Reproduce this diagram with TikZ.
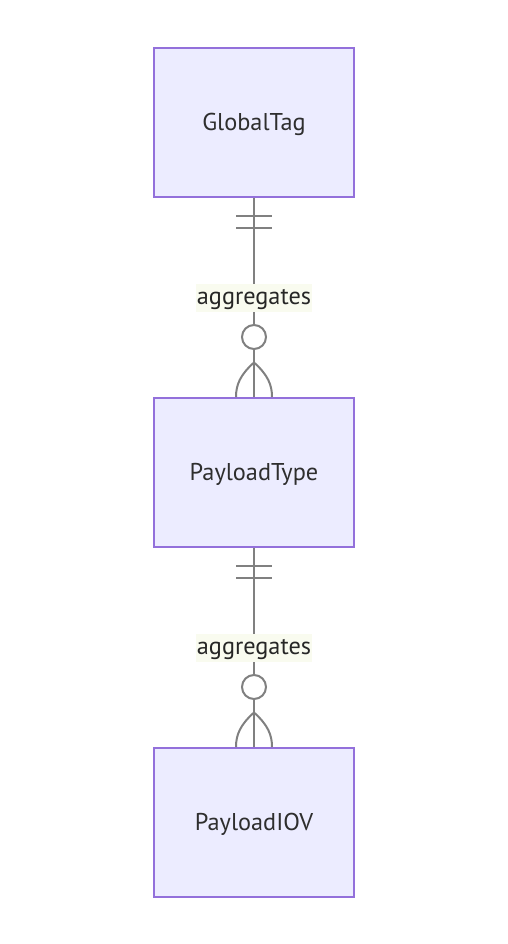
\documentclass[tikz,border=0pt]{standalone}
\usepackage{fontspec}
\setmainfont{PT Sans}
\definecolor{boxfill}{HTML}{ECECFF}
\definecolor{boxline}{HTML}{9370DB}
\definecolor{conn}{HTML}{808080}
\definecolor{lblbg}{HTML}{F9FBEF}
\definecolor{txt}{HTML}{2E2E2E}
\begin{document}
\begin{tikzpicture}[x=1pt,y=-1pt,
  entity/.style={draw=boxline,fill=boxfill,line width=2pt,minimum width=200pt,minimum height=149pt,inner sep=0pt,text height=16.4pt,text depth=0pt,font=\fontsize{24.3}{28}\selectfont,text=txt},
  rel/.style={draw=conn,line width=2pt},
  lbl/.style={fill=lblbg,font=\fontsize{24.3}{28}\selectfont,text=black!85,inner sep=0pt,text height=13.6pt,text depth=0pt,minimum width=116pt,minimum height=28pt}]
\useasboundingbox (0,0) rectangle (508,944);
\node[entity] (g) at (254,122.5) {GlobalTag};
\node[entity] (p) at (254,472.5) {PayloadType};
\node[entity] (i) at (254,822.5) {PayloadIOV};
\foreach \a/\b/\o in {g/p/0,p/i/350}{
  \draw[rel] (\a.south) -- (\b.north);
  \coordinate (c\a) at (254,337+\o);
  \draw[rel,fill=white] (c\a) circle (12);
  \draw[rel] (236,215.7+\o) -- (272,215.7+\o);
  \draw[rel] (236,227.7+\o) -- (272,227.7+\o);
  \draw[rel] (254,362.5+\o) .. controls (240,375+\o) and (236,385+\o) .. (236,397+\o);
  \draw[rel] (254,362.5+\o) .. controls (268,375+\o) and (272,385+\o) .. (272,397+\o);
  \node[lbl] (l\a) at (254,298+\o) {aggregates};
}
\end{tikzpicture}
\end{document}
